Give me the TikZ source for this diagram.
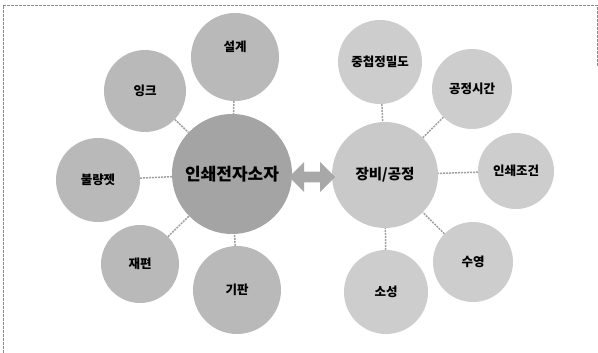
\documentclass[tikz,border=0pt]{standalone}
\usepackage{fontspec}
\setmainfont{Noto Sans CJK KR}
\usetikzlibrary{shapes.arrows}
\definecolor{maingray}{HTML}{A4A4A4}
\definecolor{leftsat}{HTML}{B9B9B9}
\definecolor{procgray}{HTML}{C9C9C9}
\definecolor{rightsat}{HTML}{CDCDCD}
\definecolor{arrowgray}{HTML}{A8A8A8}
\definecolor{linkgray}{HTML}{A0A0A0}
\definecolor{framegray}{HTML}{8A8A8A}
\begin{document}
\begin{tikzpicture}[x=1pt,y=-1pt,
  lsat/.style={circle, fill=leftsat, minimum size=#1, inner sep=0pt, font=\fontsize{12.5}{14}\selectfont\bfseries},
  rsat/.style={circle, fill=rightsat, minimum size=#1, inner sep=0pt, font=\fontsize{12.5}{14}\selectfont\bfseries},
  link/.style={draw=linkgray, line width=1.5pt, dash pattern=on 2pt off 1pt},
  frameline/.style={draw=framegray, line width=0.6pt, dash pattern=on 3pt off 1pt}]
\useasboundingbox (0,0) rectangle (598,353);
% frame
\draw[frameline] (3,353) -- (3,5) -- (597,5) -- (597,66);
% central nodes
\node[circle, fill=maingray, minimum size=120pt, inner sep=0pt, font=\fontsize{17}{19}\selectfont\bfseries] (main) at (232,174) {인쇄전자소자};
\node[circle, fill=procgray, minimum size=106pt, inner sep=0pt, font=\fontsize{14.5}{16}\selectfont\bfseries] (proc) at (385,175) {장비/공정};
\node[double arrow, fill=arrowgray, minimum width=30pt, minimum height=46pt, double arrow head extend=9pt, inner xsep=0pt, inner ysep=5pt] (arr) at (312,177) {};
% left satellites
\node[lsat=88pt, text depth=22pt] (design) at (235,57) {설계};
\node[lsat=82pt] (ink) at (145,91) {잉크};
\node[lsat=84pt] (jet) at (98,180) {불량젯};
\node[lsat=78pt] (plate) at (140,264) {재편};
\node[lsat=88pt] (subs) at (237,290) {기판};
% right satellites
\node[rsat=84pt] (overlay) at (380,62) {중첩정밀도};
\node[rsat=80pt] (ptime) at (472,89) {공정시간};
\node[rsat=76pt] (pcond) at (516,171) {인쇄조건};
\node[rsat=80pt] (swim) at (473,262) {수영};
\node[rsat=84pt] (fire) at (386,292) {소성};
% connectors
\draw[link] (design) -- (main);
\draw[link] (ink) -- (main);
\draw[link] (jet) -- (main);
\draw[link] (plate) -- (main);
\draw[link] (subs) -- (main);
\draw[link] (overlay) -- (proc);
\draw[link] (ptime) -- (proc);
\draw[link] (pcond) -- (proc);
\draw[link] (swim) -- (proc);
\draw[link] (fire) -- (proc);
\end{tikzpicture}
\end{document}
